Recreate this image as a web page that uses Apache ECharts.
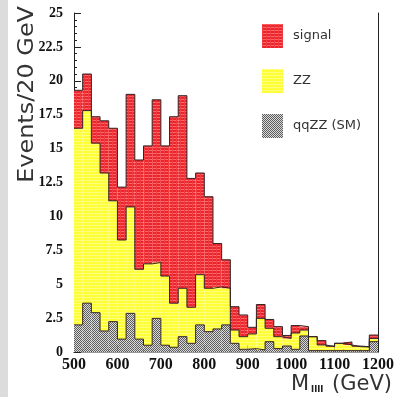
<!DOCTYPE html>
<html>
<head>
<meta charset="utf-8">
<script src="https://cdn.jsdelivr.net/npm/echarts@6/dist/echarts.min.js"></script>
<style>html,body{margin:0;padding:0;background:#fff}#c{width:398px;height:397px}</style>
</head>
<body>
<div id="c"></div>
<script>
// bin lower edges (GeV), 20 GeV bins
var binLow = [500,520,540,560,580,600,620,640,660,680,700,720,740,760,780,800,820,840,860,880,900,920,940,960,980,1000,1020,1040,1060,1080,1100,1120,1140,1160,1180];
var binWidth = 20;
// component contents per bin (events / 20 GeV)
var qqZZ   = [2.0,3.6,2.9,1.55,2.24,0.95,2.85,0.95,0.5,2.48,0.5,0.35,1.13,0.64,2.0,1.5,1.7,2.0,0.64,0.2,0.25,0.15,0.76,0.25,0.44,0.2,1.18,0.1,0.1,0.1,0.1,0.1,0.1,0.1,0.76];
var ZZ     = [14.5,14.2,12.5,11.65,8.91,7.31,7.85,5.15,6.0,4.12,5.1,3.25,3.57,2.66,3.7,3.2,3.1,2.7,0.98,0.93,1.08,2.33,0.99,0.88,0.56,1.2,0.44,1.03,0.42,0.29,0.54,0.42,0.29,0.27,0.24];
var signal = [2.8,2.7,1.95,3.85,5.35,3.9,8.3,8.06,8.7,12.0,9.6,13.75,14.2,9.5,7.5,6.75,3.2,2.1,1.72,1.6,0.49,1.02,0.65,0.74,0.22,0.55,0.25,0.0,0.32,0.05,0.0,0.22,0.05,0.02,0.25];
var yTicks = ['0','2.5','5','7.5','10','12.5','15','17.5','20','22.5','25'];
var xTicks = ['500','600','700','800','900','1000','1100','1200'];

function pattern(w, h, draw) {
  var c = document.createElement('canvas'); c.width = w; c.height = h;
  var g = c.getContext('2d'); draw(g); return {image: c, repeat: 'repeat'};
}
var redFill = pattern(4, 3, function (g) {
  g.fillStyle = '#ee242b'; g.fillRect(0, 0, 4, 3);
  g.fillStyle = '#f56a6e'; g.fillRect(0, 0, 4, 1);
  g.fillStyle = '#f13c42'; g.fillRect(0, 0, 1, 3);
});
var yellowFill = pattern(4, 3, function (g) {
  g.fillStyle = '#ffff38'; g.fillRect(0, 0, 4, 3);
  g.fillStyle = '#ffff7a'; g.fillRect(0, 0, 4, 1);
});
var grayFill = pattern(2, 2, function (g) {
  g.fillStyle = '#dadada'; g.fillRect(0, 0, 2, 2);
  g.fillStyle = '#5c5c5c'; g.fillRect(0, 0, 1, 1); g.fillRect(1, 1, 1, 1);
});

var layers = [qqZZ, ZZ, signal];
var names = ['qqZZ (SM)', 'ZZ', 'signal'];
var fills = [grayFill, yellowFill, redFill];
var cum = binLow.map(function () { return 0; });
var series = [];
var outlines = [];
layers.forEach(function (arr, k) {
  var data = [];
  var line = [];
  for (var i = 0; i < binLow.length; i++) {
    var base = cum[i];
    cum[i] = base + arr[i];
    data.push([binLow[i], binLow[i] + binWidth, base, cum[i]]);
    line.push([binLow[i], cum[i]]);
  }
  line.push([binLow[binLow.length - 1] + binWidth, cum[binLow.length - 1]]);
  series.push({
    name: names[k], type: 'custom', z: 2,
    itemStyle: {color: fills[k]},
    renderItem: function (params, api) {
      var p0 = api.coord([api.value(0), api.value(3)]);
      var p1 = api.coord([api.value(1), api.value(2)]);
      return {type: 'rect', shape: {x: p0[0], y: p0[1], width: p1[0] - p0[0], height: p1[1] - p0[1]},
              style: {fill: fills[k]}};
    },
    encode: {x: [0, 1], y: [2, 3]},
    data: data
  });
  outlines.push({
    type: 'line', step: 'end', symbol: 'none', z: 3, silent: true,
    lineStyle: {color: '#332222', width: 1}, data: line
  });
});

var chart = echarts.init(document.getElementById('c'), null, {renderer: 'canvas'});
chart.setOption({
  animation: false,
  backgroundColor: '#fff',
  grid: {left: 74, right: 20, top: 13, bottom: 45},
  legend: {
    data: ['signal', 'ZZ', 'qqZZ (SM)'], orient: 'vertical', left: 257, top: 19,
    icon: 'rect', itemWidth: 21, itemHeight: 24, itemGap: 21,
    textStyle: {fontFamily: 'DejaVu Sans', fontSize: 13, color: '#333', padding: [0, 0, 6, 5]}
  },
  xAxis: [{
    type: 'value', min: 500, max: 1200, interval: 100,
    axisLine: {lineStyle: {color: '#222', width: 1}},
    axisTick: {inside: true, length: 7, lineStyle: {color: '#222'}},
    minorTick: {show: true, splitNumber: 5, length: 3, lineStyle: {color: '#222'}},
    splitLine: {show: false},
    axisLabel: {fontFamily: 'Liberation Serif', fontWeight: 'bold', fontSize: 16, color: '#111', margin: 5,
      formatter: function (v) { return xTicks[Math.round((v - 500) / 100)]; }}
  }, {
    type: 'value', min: 500, max: 1200, position: 'top',
    axisLine: {show: true, lineStyle: {color: '#999'}}, axisTick: {show: false}, axisLabel: {show: false}, splitLine: {show: false}
  }],
  yAxis: [{
    type: 'value', min: 0, max: 25, interval: 2.5,
    axisLine: {show: true, lineStyle: {color: '#222', width: 1}},
    axisTick: {show: true, inside: true, length: 7, lineStyle: {color: '#222'}},
    minorTick: {show: true, splitNumber: 5, length: 3, lineStyle: {color: '#222'}},
    splitLine: {show: false},
    axisLabel: {fontFamily: 'Liberation Serif', fontWeight: 'bold', fontSize: 14, color: '#111', margin: 11,
      formatter: function (v) { return yTicks[Math.round(v / 2.5)]; }}
  }, {
    type: 'value', min: 0, max: 25, position: 'right',
    axisLine: {show: true, lineStyle: {color: '#222'}}, axisTick: {show: false}, axisLabel: {show: false}, splitLine: {show: false}
  }],
  graphic: [
    {type: 'rect', left: 0, top: 0, z: -10, shape: {width: 8, height: 397}, style: {fill: '#dcdcdc'}},
    {type: 'text', x: 28, y: 6, rotation: Math.PI / 2, scaleX: 1.14, z: 10,
     style: {text: 'Events/20 GeV', fill: '#333', font: '21px "DejaVu Sans"', textAlign: 'right', textVerticalAlign: 'middle'}},
    {type: 'text', x: 392, y: 385, z: 10,
     style: {text: 'M{s|llll} (GeV)', fill: '#333', font: '21px "DejaVu Sans"', textAlign: 'right', textVerticalAlign: 'middle',
       rich: {s: {fontSize: 9, fontWeight: 'bold', fontFamily: 'DejaVu Sans', fill: '#222', padding: [9, 2, 0, 2]}}}}
  ],
  series: series.concat(outlines)
});
</script>
</body>
</html>
